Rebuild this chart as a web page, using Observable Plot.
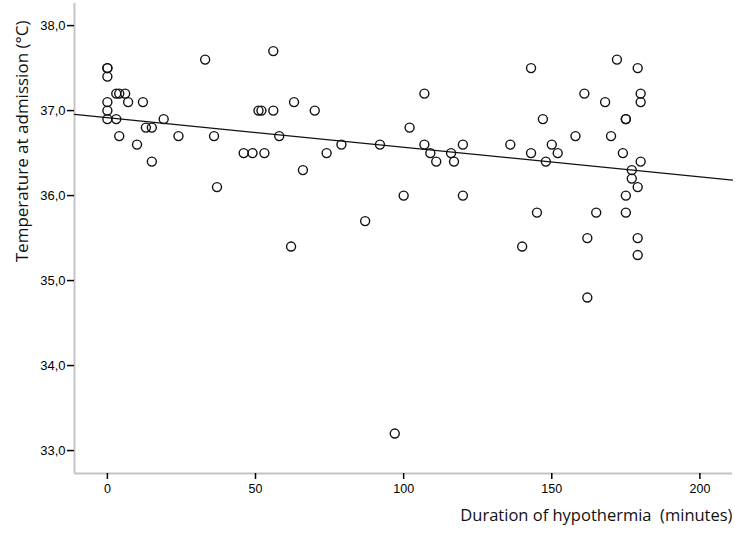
<!DOCTYPE html>
<html><head><meta charset="utf-8">
<script src="https://cdn.jsdelivr.net/npm/d3@7"></script>
<script src="https://cdn.jsdelivr.net/npm/@observablehq/plot@0.6"></script>
<style>body{margin:0;background:#fff}</style>
</head><body><div id="chart"></div>
<script>
const duration = [
  0, 0, 0, 0, 0, 0,
  3, 3, 4, 4, 6, 7, 10, 12, 13, 15, 15, 19, 24,
  33, 36, 37, 46, 49, 51, 52, 53, 56, 56, 58,
  62, 63, 66, 70, 74, 79, 87, 92, 97,
  100, 102, 107, 107, 109, 111, 116, 117, 120, 120,
  136, 140, 143, 143, 145, 147, 148, 150, 152, 158,
  161, 162, 162, 165, 168, 170, 172, 174,
  175, 175, 175, 175, 177, 177,
  179, 179, 179, 179, 180, 180, 180
];
const temperature = [
  37.5, 37.5, 37.4, 37.1, 37.0, 36.9,
  37.2, 36.9, 37.2, 36.7, 37.2, 37.1, 36.6, 37.1, 36.8, 36.8, 36.4, 36.9, 36.7,
  37.6, 36.7, 36.1, 36.5, 36.5, 37.0, 37.0, 36.5, 37.7, 37.0, 36.7,
  35.4, 37.1, 36.3, 37.0, 36.5, 36.6, 35.7, 36.6, 33.2,
  36.0, 36.8, 37.2, 36.6, 36.5, 36.4, 36.5, 36.4, 36.6, 36.0,
  36.6, 35.4, 37.5, 36.5, 35.8, 36.9, 36.4, 36.6, 36.5, 36.7,
  37.2, 35.5, 34.8, 35.8, 37.1, 36.7, 37.6, 36.5,
  36.9, 36.9, 36.0, 35.8, 36.3, 36.2,
  37.5, 36.1, 35.5, 35.3, 37.2, 37.1, 36.4
];
const xTicks = [0, 50, 100, 150, 200];
const yTicks = [33, 34, 35, 36, 37, 38];
const xDomain = [-11.1, 211];
const yDomain = [32.73, 38.26];
const xTitle = "Duration of hypothermia  (minutes)";
const yTitle = "Temperature at admission (°C)";

const data = duration.map((d, i) => ({duration: d, temperature: temperature[i]}));
const mx = d3.mean(duration), my = d3.mean(temperature);
const slope = d3.sum(data, d => (d.duration - mx) * (d.temperature - my)) /
              d3.sum(data, d => (d.duration - mx) ** 2);
const intercept = my - slope * mx;
const fit = xDomain.map(x => ({duration: x, temperature: intercept + slope * x}));

const titleFont = "'Open Sans', 'Noto Sans', sans-serif";

const chart = Plot.plot({
  width: 735, height: 536,
  marginLeft: 74, marginRight: 3, marginTop: 3, marginBottom: 63,
  style: {fontFamily: "'Liberation Sans', Arial, sans-serif", fontSize: "12px", color: "#000", background: "#fff"},
  x: {domain: xDomain},
  y: {domain: yDomain},
  marks: [
    Plot.ruleX([xDomain[0]], {stroke: "#c4c4c4", strokeWidth: 2}),
    Plot.ruleY([yDomain[0]], {stroke: "#c4c4c4", strokeWidth: 2}),
    Plot.axisX({ticks: xTicks, tickSize: 6, tickPadding: 5, strokeWidth: 1.5, tickFormat: d => String(d), label: null, fontSize: 12.5}),
    Plot.axisY({ticks: yTicks, tickSize: 7, tickPadding: 2, strokeWidth: 1.5, tickFormat: d => d.toFixed(1).replace(".", ","), label: null, fontSize: 13}),
    Plot.line(fit, {x: "duration", y: "temperature", stroke: "#111", strokeWidth: 1.2}),
    Plot.dot(data, {x: "duration", y: "temperature", r: 4.5, stroke: "#111", strokeWidth: 1.4, fill: "none"}),
    Plot.text([xTitle], {frameAnchor: "bottom-right", dy: 47, textAnchor: "end", fontSize: 16.5, fontFamily: titleFont, fill: "#111"}),
    Plot.text([yTitle], {frameAnchor: "top-left", dx: -59, dy: 17, rotate: -90, textAnchor: "end", fontSize: 17, fontFamily: titleFont, fill: "#111"})
  ]
});
document.getElementById("chart").appendChild(chart);
</script>
</body></html>
